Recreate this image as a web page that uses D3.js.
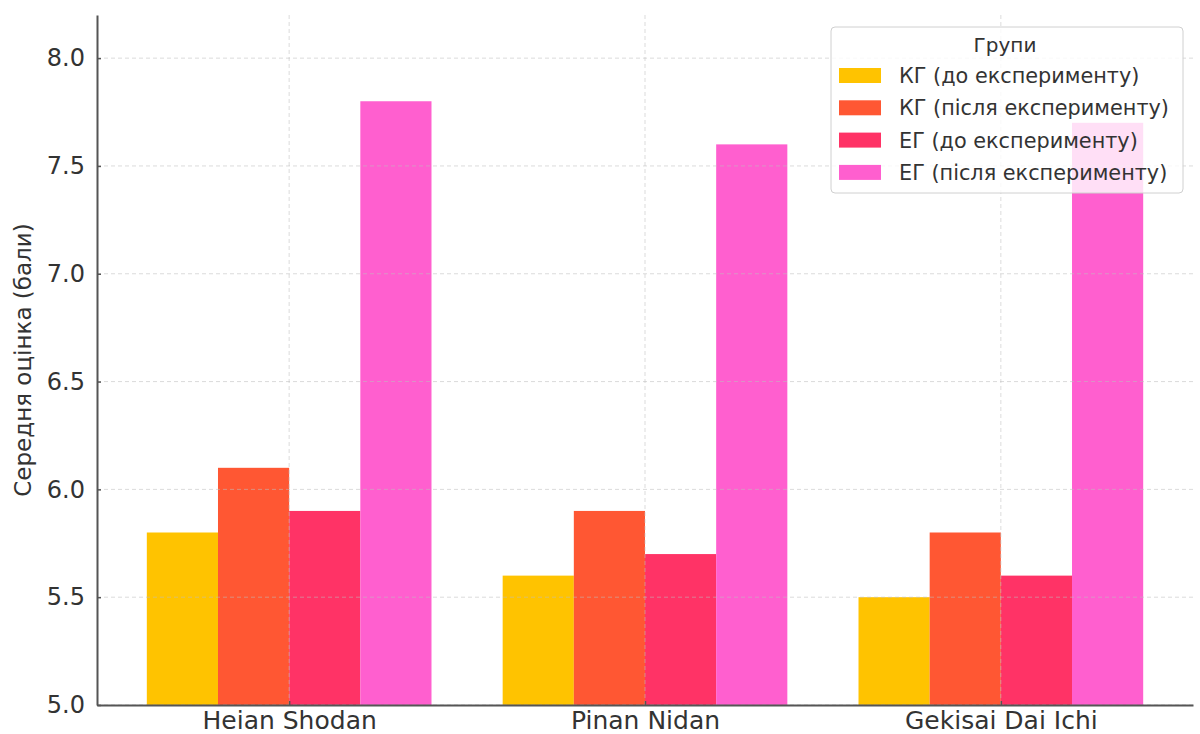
<!DOCTYPE html>
<html>
<head>
<meta charset="utf-8">
<script src="https://cdn.jsdelivr.net/npm/d3@7"></script>
<style>
  body { margin: 0; background: #fff; }
  text { font-family: "DejaVu Sans", sans-serif; fill: #333; }
</style>
</head>
<body>
<script>
var categories = ['Heian Shodan', 'Pinan Nidan', 'Gekisai Dai Ichi'];
var seriesNames = ['КГ (до експерименту)', 'КГ (після експерименту)', 'ЕГ (до експерименту)', 'ЕГ (після експерименту)'];
var seriesColors = ['#FFC300', '#FF5733', '#FF3366', '#FF5FCF'];
var kgBefore = [5.8, 5.6, 5.5];
var kgAfter = [6.1, 5.9, 5.8];
var egBefore = [5.9, 5.7, 5.6];
var egAfter = [7.8, 7.6, 7.7];
var yTicks = [5.0, 5.5, 6.0, 6.5, 7.0, 7.5, 8.0];

var series = [kgBefore, kgAfter, egBefore, egAfter];

var W = 1200, H = 734;
var mLeft = 97, mRight = 1193, mTop = 15, mBottom = 705;

var svg = d3.select('body').append('svg')
  .attr('width', W)
  .attr('height', H);

// x is a linear scale in category units, like matplotlib
var x = d3.scaleLinear().domain([-0.54, 2.54]).range([mLeft, mRight]);
var y = d3.scaleLinear().domain([5, 8.2]).range([mBottom, mTop]);
var barW = 0.2;

// bars
series.forEach(function(vals, s) {
  svg.append('g').selectAll('rect').data(vals)
    .enter()
    .append('rect')
    .attr('x', function(d, i) { return x(i + (s - 1.5) * barW - barW / 2); })
    .attr('width', x(barW) - x(0))
    .attr('y', function(d) { return y(d); })
    .attr('height', function(d) { return y(5) - y(d); })
    .attr('fill', seriesColors[s]);
});

// grid on top, faint dashed
var grid = svg.append('g');
grid.selectAll('.hg').data(yTicks).enter().append('line')
  .attr('x1', mLeft).attr('x2', mRight)
  .attr('y1', function(d) { return y(d); })
  .attr('y2', function(d) { return y(d); })
  .attr('stroke', 'rgba(190,190,190,0.55)')
  .attr('stroke-dasharray', '4,3');
grid.selectAll('.vg').data(categories).enter().append('line')
  .attr('x1', function(d, i) { return x(i); })
  .attr('x2', function(d, i) { return x(i); })
  .attr('y1', mTop).attr('y2', mBottom)
  .attr('stroke', 'rgba(190,190,190,0.55)')
  .attr('stroke-dasharray', '4,3');

// axes
var yAxis = d3.axisLeft(y).tickValues(yTicks).tickFormat(d3.format('.1f'))
  .tickSizeInner(-4).tickSizeOuter(0).tickPadding(12);
var gy = svg.append('g').attr('transform', 'translate(' + mLeft + ',0)').call(yAxis);
gy.select('.domain').attr('stroke', '#555').attr('stroke-width', 2);
gy.selectAll('.tick line').attr('stroke', '#555').attr('stroke-width', 1.5);
gy.selectAll('.tick text').attr('font-size', 24).attr('fill', '#333');

var xAxis = d3.axisBottom(x).tickValues([0, 1, 2])
  .tickFormat(function(d) { return categories[d]; })
  .tickSizeInner(-4).tickSizeOuter(0).tickPadding(6);
var gx = svg.append('g').attr('transform', 'translate(0,' + mBottom + ')').call(xAxis);
gx.select('.domain').attr('stroke', '#555').attr('stroke-width', 2);
gx.selectAll('.tick line').attr('stroke', '#555').attr('stroke-width', 1.5);
gx.selectAll('.tick text').attr('font-size', 25).attr('fill', '#333');

svg.append('text')
  .attr('transform', 'translate(31,' + ((mTop + mBottom) / 2) + ') rotate(-90)')
  .attr('text-anchor', 'middle')
  .attr('font-size', 23)
  .text('Середня оцінка (бали)');

// legend
var lg = svg.append('g').attr('transform', 'translate(831,27)');
lg.append('rect')
  .attr('width', 352).attr('height', 166)
  .attr('rx', 4)
  .attr('fill', 'rgba(255,255,255,0.8)')
  .attr('stroke', '#d0d0d0');
lg.append('text')
  .attr('x', 174).attr('y', 25)
  .attr('text-anchor', 'middle')
  .attr('font-size', 20)
  .text('Групи');
var items = lg.selectAll('.item').data(seriesNames).enter().append('g')
  .attr('transform', function(d, i) { return 'translate(8,' + (41 + i * 32.3) + ')'; });
items.append('rect')
  .attr('width', 42).attr('height', 15)
  .attr('fill', function(d, i) { return seriesColors[i]; });
items.append('text')
  .attr('x', 60).attr('y', 15)
  .attr('font-size', 20.8)
  .text(function(d) { return d; });
</script>
</body>
</html>
